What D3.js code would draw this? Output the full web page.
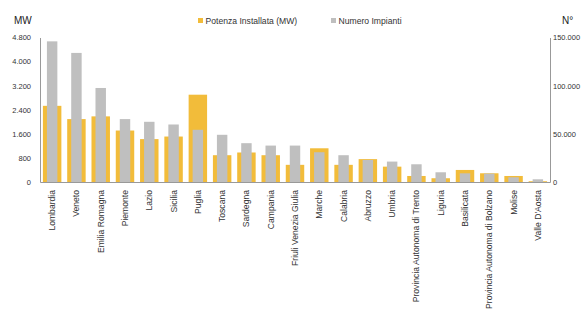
<!DOCTYPE html>
<html>
<head>
<meta charset="utf-8">
<script src="https://cdn.jsdelivr.net/npm/d3@7"></script>
<style>
  html, body { margin: 0; padding: 0; background: #fff; }
  svg { display: block; font-family: "Liberation Sans", Arial, sans-serif; }
</style>
</head>
<body>
<svg id="chart" width="582" height="309"></svg>
<script>
const regions = ["Lombardia","Veneto","Emilia Romagna","Piemonte","Lazio","Sicilia","Puglia","Toscana","Sardegna","Campania","Friuli Venezia Giulia","Marche","Calabria","Abruzzo","Umbria","Provincia Autonoma di Trento","Liguria","Basilicata","Provincia Autonoma di Bolzano","Molise","Valle D'Aosta"];
const potenzaMW = [2530,2090,2180,1710,1425,1510,2900,890,980,890,570,1120,570,760,510,200,125,400,290,200,25];
const numeroImpianti = [146000,134000,97600,65300,62500,59700,54200,49000,40300,37800,37800,30900,27800,22900,21200,18400,10100,9000,8700,4900,2800];
const leftTicks = [0,800,1600,2400,3200,4000,4800];
const rightTicks = [0,50000,100000,150000];

const fmt = d3.formatLocale({decimal: ",", thousands: ".", grouping: [3], currency: ["€",""]}).format(",d");

const svg = d3.select("#chart");
const m = {left: 40, right: 550, top: 37.5, bottom: 182};
const orange = "#F2BC3A", gray = "#BFBFBF", text = "#333333";

const x = d3.scaleBand().domain(regions).range([m.left, m.right]).paddingInner(0).paddingOuter(0);
const yL = d3.scaleLinear().domain([0, 4800]).range([m.bottom, m.top]);
const yR = d3.scaleLinear().domain([0, 150000]).range([m.bottom, m.top]);

const bw = x.bandwidth();
const ow = bw * 0.76, gw = bw * 0.43;

svg.append("g").selectAll("rect").data(regions).join("rect")
  .attr("x", (d) => x(d) + (bw - ow) / 2)
  .attr("width", ow)
  .attr("y", (d, i) => yL(potenzaMW[i]))
  .attr("height", (d, i) => m.bottom - yL(potenzaMW[i]))
  .attr("fill", orange);

svg.append("g").selectAll("rect").data(regions).join("rect")
  .attr("x", (d) => x(d) + (bw - gw) / 2)
  .attr("width", gw)
  .attr("y", (d, i) => yR(numeroImpianti[i]))
  .attr("height", (d, i) => m.bottom - yR(numeroImpianti[i]))
  .attr("fill", gray);

// left axis
const gL = svg.append("g").attr("transform", `translate(${m.left},0)`)
  .call(d3.axisLeft(yL).tickValues(leftTicks).tickSize(0).tickPadding(9).tickFormat(fmt));
gL.select(".domain").attr("stroke", "#999").attr("stroke-width", 1);
gL.selectAll("text").attr("fill", text).style("font-size", "7.5px");

// right axis
const gR = svg.append("g").attr("transform", `translate(${m.right},0)`)
  .call(d3.axisRight(yR).tickValues(rightTicks).tickSize(0).tickPadding(3).tickFormat(fmt));
gR.select(".domain").attr("stroke", "#999").attr("stroke-width", 1);
gR.selectAll("text").attr("fill", text).style("font-size", "7.5px");

// bottom axis
const gB = svg.append("g").attr("transform", `translate(0,${m.bottom})`)
  .call(d3.axisBottom(x).tickSize(0).tickPadding(0));
gB.select(".domain").attr("stroke", "#999").attr("stroke-width", 1);
gB.selectAll("text")
  .attr("fill", text)
  .style("font-size", "8.6px")
  .attr("text-anchor", "end")
  .attr("transform", "rotate(-90)")
  .attr("x", -8)
  .attr("y", 0)
  .attr("dy", "0.35em");

// axis titles
svg.append("text").attr("x", 14).attr("y", 24).text("MW")
  .attr("fill", "#222").style("font-size", "10px");
svg.append("text").attr("x", 562).attr("y", 24).text("N°")
  .attr("fill", "#222").style("font-size", "10px");

// legend
const legend = [{label: "Potenza Installata (MW)", color: orange, x: 198},
                {label: "Numero Impianti", color: gray, x: 331}];
const lg = svg.append("g").selectAll("g").data(legend).join("g")
  .attr("transform", (d) => `translate(${d.x},18)`);
lg.append("rect").attr("width", 5).attr("height", 5).attr("fill", (d) => d.color);
lg.append("text").attr("x", 7.5).attr("y", 5.5).text((d) => d.label)
  .attr("fill", text).style("font-size", "8.6px");
</script>
</body>
</html>
